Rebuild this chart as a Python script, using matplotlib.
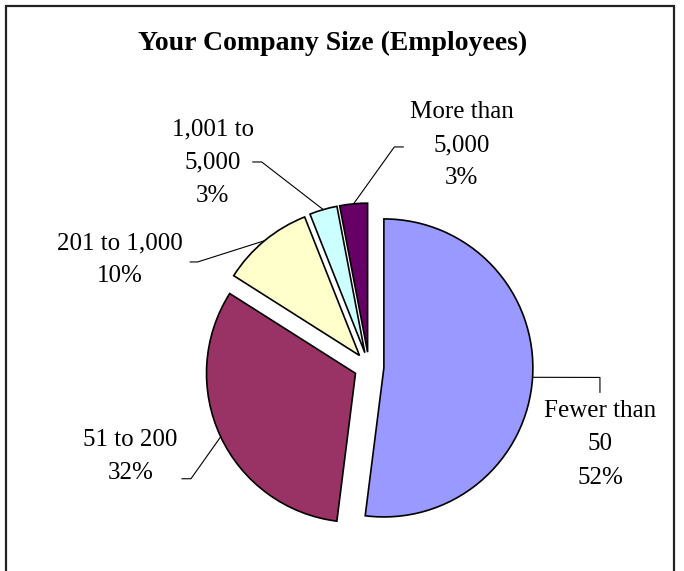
import numpy as np
import matplotlib
matplotlib.use("Agg")
from matplotlib import pyplot as plt
from matplotlib.patches import Rectangle

# data
categories = ["Fewer than\n50", "51 to 200", "201 to 1,000", "1,001 to\n5,000", "More than\n5,000"]
shares = [52, 32, 10, 3, 3]
colors = ["#9999FF", "#993366", "#FFFFCC", "#CCFFFF", "#660066"]

# label text centres and leader elbows (pie radius = 1, layout only)
label_pos = [(1.55, -0.52), (-1.60, -0.60), (-1.67, 0.72), (-1.05, 1.37), (0.62, 1.49)]
elbows = [
    [(1.55, -0.07), (1.55, -0.17)],
    [(-1.195, -0.75), (-1.255, -0.75)],
    [(-1.15, 0.705), (-1.20, 0.705)],
    [(-0.72, 1.376), (-0.78, 1.376)],
    [(0.17, 1.477), (0.23, 1.477)],
]

plt.rcParams["font.family"] = ["Liberation Serif", "DejaVu Serif"]

W, H = 684, 571
R = 149.0          # pie radius in pixels
cx, cy = 369, 367  # pie centre in pixels (from top)
explode = 0.1

fig = plt.figure(figsize=(W / 100, H / 100), dpi=100)
ax = fig.add_axes([0, 0, 1, 1])

wedges, _ = ax.pie(shares, colors=colors, startangle=90, counterclock=False,
                   explode=[explode] * len(shares), radius=1.0,
                   wedgeprops=dict(edgecolor="black", linewidth=1.2))

ax.set_xlim(-cx / R, (W - cx) / R)
ax.set_ylim(-(H - cy) / R, cy / R)
ax.set_aspect("equal")
ax.axis("off")

# labels with elbow leader lines
total = sum(shares)
start = 90.0
for i, s in enumerate(shares):
    sweep = 360.0 * s / total
    mid = np.radians(start - sweep / 2)
    start -= sweep
    ex, ey = (1 + explode) * np.cos(mid), (1 + explode) * np.sin(mid)
    pts = [(ex, ey)] + elbows[i]
    ax.plot([p[0] for p in pts], [p[1] for p in pts], color="black", lw=0.8)
    ax.text(label_pos[i][0], label_pos[i][1], f"{categories[i]}\n{s}%",
            ha="center", va="center", fontsize=18, linespacing=1.65)

fig.text(333 / W, 1 - 43 / H, "Your Company Size (Employees)", ha="center", va="center",
         fontsize=20, fontweight="bold")

fig.patches.append(Rectangle((6 / W, -0.01), 668 / W, 1 - 6 / H + 0.01,
                             transform=fig.transFigure, fill=False,
                             edgecolor="#222222", linewidth=1.6))

fig.savefig("out.png", dpi=100)
